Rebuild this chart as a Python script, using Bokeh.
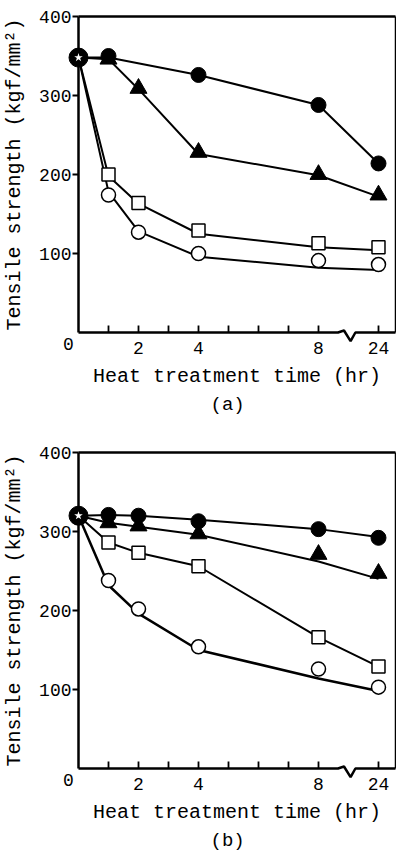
from bokeh.plotting import figure
from bokeh.layouts import column
from bokeh.models import Range1d, FixedTicker
from bokeh.core.properties import value
from bokeh.embed import file_html
from bokeh.resources import INLINE

# ---------------- data ----------------
X_MAJOR_HOURS = [2, 4, 8, 24]
X_MINOR_HOURS = [1, 3, 5, 6, 7]
Y_TICKS = [100, 200, 300, 400]
ORIGIN_LABEL = "0"

# panel (a)
A_START = 348
A_FC_H = [1, 4, 8, 24]
A_FC = [350, 326, 288, 214]
A_FC_CURVE_H = [0, 1, 4, 8, 24]
A_FC_CURVE = [348, 348, 326, 288, 214]

A_TR_H = [1, 2, 4, 8, 24]
A_TR = [346, 309, 228, 200, 174]
A_TR_CURVE_H = [0, 1, 2, 4, 8, 24]
A_TR_CURVE = [348, 346, 308, 226, 199, 172]

A_SQ_H = [1, 2, 4, 8, 24]
A_SQ = [200, 164, 129, 113, 108]
A_SQ_CURVE_H = [0, 1, 2, 4, 8, 24]
A_SQ_CURVE = [348, 198, 163, 125, 108, 104]

A_OC_H = [1, 2, 4, 8, 24]
A_OC = [174, 127, 100, 91, 86]
A_OC_CURVE_H = [0, 1, 2, 4, 8, 24]
A_OC_CURVE = [348, 178, 128, 96, 82, 79]

# panel (b)
B_START = 320
B_FC_H = [1, 2, 4, 8, 24]
B_FC = [321, 320, 313, 303, 292]
B_FC_CURVE_H = [0, 1, 2, 4, 8, 24]
B_FC_CURVE = [320, 321, 320, 315, 303, 293]

B_TR_H = [1, 2, 4, 8, 24]
B_TR = [311, 307, 297, 271, 247]
B_TR_CURVE_H = [0, 1, 2, 4, 8, 24]
B_TR_CURVE = [320, 311, 306, 296, 262, 240]

B_SQ_H = [1, 2, 4, 8, 24]
B_SQ = [286, 273, 256, 166, 129]
B_SQ_CURVE_H = [0, 1, 2, 4, 8, 24]
B_SQ_CURVE = [320, 286, 273, 256, 166, 129]

B_OC_H = [1, 2, 4, 8, 24]
B_OC = [238, 202, 154, 126, 103]
B_OC_CURVE_H = [0, 1, 2, 4, 8, 24]
B_OC_CURVE = [320, 232, 196, 150, 114, 98]

# ---------------- axis with a break between 8 and 24 hr ----------------
BREAK_POS = 9.0      # where the zig-zag break sits on the axis
LONG_POS = 10.0      # where the 24 hr column is drawn (after the break)
X_END = 10.567


def xpos(h):
    return h if h <= 8 else LONG_POS


def xs(hours):
    return [xpos(h) for h in hours]


MONO = "Liberation Mono"


def make_panel(series, start, tag, height, top):
    bottom = height - top - 316
    p = figure(width=396, height=height,
               x_range=Range1d(0, X_END), y_range=Range1d(0, 400),
               output_backend="svg", toolbar_location=None,
               min_border_left=78, min_border_right=1,
               min_border_top=top, min_border_bottom=bottom,
               background_fill_color="white", border_fill_color="white")
    p.grid.visible = False
    p.outline_line_color = None

    # y axis
    ya = p.yaxis[0]
    ya.ticker = FixedTicker(ticks=Y_TICKS, minor_ticks=[])
    ya.major_tick_out = 6
    ya.major_tick_in = 0
    ya.major_tick_line_width = 2
    ya.major_tick_line_color = "black"
    ya.axis_line_width = 2.5
    ya.axis_line_color = "black"
    ya.major_label_text_font = MONO
    ya.major_label_text_font_size = "18px"
    ya.major_label_text_color = "black"
    ya.major_label_standoff = 1
    ya.axis_label = "Tensile strength (kgf/mm²)"
    ya.axis_label_text_font = MONO
    ya.axis_label_text_font_style = "normal"
    ya.axis_label_text_font_size = "20px"
    ya.axis_label_text_color = "black"
    ya.axis_label_standoff = 10

    # x axis
    xa = p.xaxis[0]
    xa.ticker = FixedTicker(ticks=xs(X_MAJOR_HOURS), minor_ticks=xs(X_MINOR_HOURS))
    xa.major_label_overrides = {xpos(h): str(h) for h in X_MAJOR_HOURS}
    xa.axis_line_color = None
    xa.major_tick_in = 7
    xa.major_tick_out = 0
    xa.minor_tick_in = 7
    xa.minor_tick_out = 0
    xa.major_tick_line_width = 1.8
    xa.minor_tick_line_width = 1.8
    xa.major_tick_line_color = "black"
    xa.minor_tick_line_color = "black"
    xa.major_label_text_font = MONO
    xa.major_label_text_font_size = "18px"
    xa.major_label_text_color = "black"
    xa.major_label_standoff = 9
    xa.axis_label = "Heat treatment time (hr)"
    xa.axis_label_text_font = MONO
    xa.axis_label_text_font_style = "normal"
    xa.axis_label_text_font_size = "20px"
    xa.axis_label_text_color = "black"
    xa.axis_label_standoff = 8

    # frame: bottom axis line with zig-zag break, top and right borders
    b = BREAK_POS
    p.line([0, b - 0.35, b - 0.15, b + 0.07, b + 0.23, X_END],
           [0, 0, 2.5, -11, 0, 0], line_color="black", line_width=2.5, level="overlay")
    p.line([0, X_END], [400, 400], line_color="black", line_width=2.5, level="overlay")
    p.line([X_END, X_END], [0, 400], line_color="black", line_width=1.5, level="overlay")

    # curves
    for s in series:
        p.line(xs(s["curve_h"]), s["curve"], line_color="black",
               line_width=s.get("lw", 2), level="overlay")
    # markers
    for s in series:
        m = s["marker"]
        if m == "fc":
            p.scatter(xs(s["h"]), s["v"], marker="circle", size=15,
                      fill_color="black", line_color="black", level="overlay")
        elif m == "tr":
            p.scatter(xs(s["h"]), s["v"], marker="triangle", size=17,
                      fill_color="black", line_color="black", level="overlay")
        elif m == "sq":
            p.scatter(xs(s["h"]), s["v"], marker="square", size=13,
                      fill_color="white", line_color="black", line_width=1.5, level="overlay")
        elif m == "oc":
            p.scatter(xs(s["h"]), s["v"], marker="circle", size=14,
                      fill_color="white", line_color="black", line_width=1.5, level="overlay")
    # common starting point (as received)
    p.scatter([0], [start], marker="circle", size=19, fill_color="black",
              line_color="black", level="overlay")
    p.scatter([0], [start], marker="star", size=9, fill_color="white",
              line_color=None, level="overlay")

    # origin "0" label and panel tag, as text glyphs (not clipped at overlay level)
    p.text(x=[0], y=[0], text=[ORIGIN_LABEL], x_offset=-10, y_offset=11,
           text_font=value(MONO), text_font_size="18px", text_color="black",
           text_align="center", text_baseline="middle", level="overlay")
    p.text(x=[4.97], y=[0], text=[tag], x_offset=0, y_offset=72,
           text_font=value(MONO), text_font_size="19px", text_color="black",
           text_align="center", text_baseline="middle", level="overlay")
    return p


series_a = [
    dict(marker="fc", h=A_FC_H, v=A_FC, curve_h=A_FC_CURVE_H, curve=A_FC_CURVE),
    dict(marker="tr", h=A_TR_H, v=A_TR, curve_h=A_TR_CURVE_H, curve=A_TR_CURVE),
    dict(marker="sq", h=A_SQ_H, v=A_SQ, curve_h=A_SQ_CURVE_H, curve=A_SQ_CURVE),
    dict(marker="oc", h=A_OC_H, v=A_OC, curve_h=A_OC_CURVE_H, curve=A_OC_CURVE),
]
series_b = [
    dict(marker="fc", h=B_FC_H, v=B_FC, curve_h=B_FC_CURVE_H, curve=B_FC_CURVE),
    dict(marker="tr", h=B_TR_H, v=B_TR, curve_h=B_TR_CURVE_H, curve=B_TR_CURVE),
    dict(marker="sq", h=B_SQ_H, v=B_SQ, curve_h=B_SQ_CURVE_H, curve=B_SQ_CURVE),
    dict(marker="oc", h=B_OC_H, v=B_OC, curve_h=B_OC_CURVE_H, curve=B_OC_CURVE, lw=2.5),
]

pa = make_panel(series_a, A_START, "(a)", 420, 16)
pb = make_panel(series_b, B_START, "(b)", 432, 32)

layout = column(pa, pb, spacing=0)
open("out.html", "w").write(file_html(layout, INLINE))
